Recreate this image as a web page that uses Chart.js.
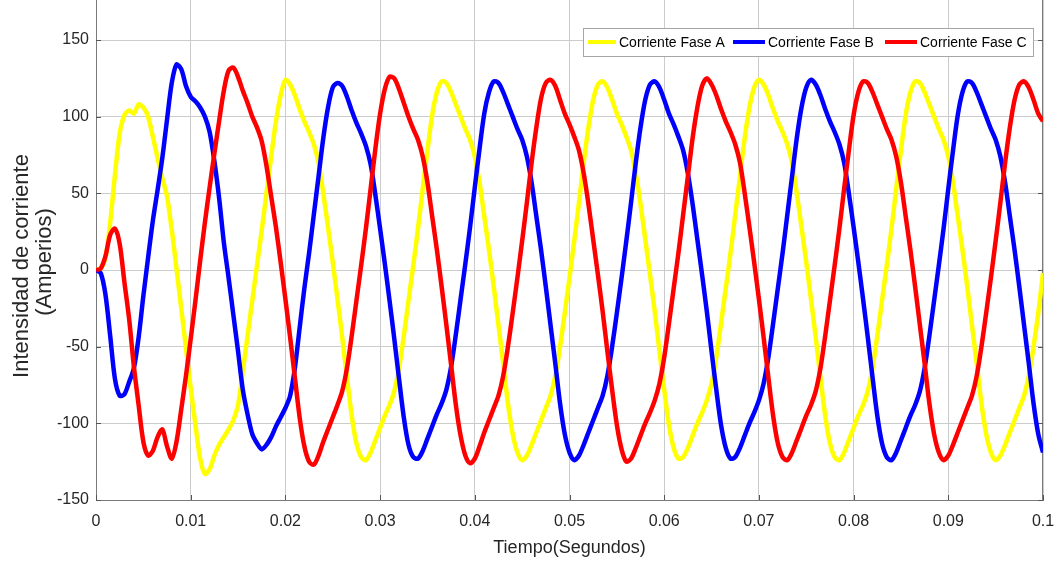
<!DOCTYPE html>
<html lang="es">
<head>
<meta charset="utf-8">
<title>Corrientes de fase</title>
<script src="https://cdn.jsdelivr.net/npm/chart.js@4.4.1/dist/chart.umd.min.js"></script>
<style>
  html, body { margin: 0; padding: 0; background: #ffffff; }
  #marco { position: relative; width: 1060px; height: 563px; }
</style>
</head>
<body>
<div id="marco"><canvas id="grafico" width="1060" height="563"></canvas></div>
<script>
// Muestreo: 0 a 0.1 s cada 0.5 ms
const PASO = 0.0005;
const TIEMPO = Array.from({ length: 201 }, (_, i) => +(i * PASO).toFixed(4));

// Corriente de cada fase (A)
const FASE_A = [
  0, 1, 8, 31, 62, 89, 101, 104, 102, 108,
  106, 100, 87, 73, 60, 48, 26, 1, -25, -51,
  -77, -101, -123, -133, -130, -121, -114, -109, -104, -98,
  -88, -66, -43, -20, 3, 26, 50, 74, 97, 114,
  124, 121, 114, 105, 97, 90, 82, 70, 50, 28,
  5, -19, -44, -70, -95, -113, -122, -124, -119, -111,
  -103, -95, -88, -79, -64, -43, -20, 3, 27, 53,
  78, 101, 116, 123,
  122, 116, 108, 100, 92, 85, 74, 57, 35, 13,
  -11, -36, -61, -87, -107, -119, -124, -121, -114, -106,
  -98, -90, -82, -69, -50, -28, -5, 19, 44, 70,
  93, 111, 121,
  123, 119, 111, 102, 95, 87, 78, 63, 43, 20,
  -3, -27, -53, -78, -101, -116, -123, -122, -116, -108,
  -100, -93, -85, -74, -57, -35, -12, 11, 36, 61,
  86, 106, 119,
  124, 121, 114, 105, 97, 90, 82, 70, 50, 28,
  5, -19, -44, -70, -95, -113, -122, -124, -119, -111,
  -103, -95, -88, -79, -64, -43, -20, 3, 27, 53,
  78, 101, 116, 123,
  122, 116, 108, 100, 92, 85, 74, 57, 35, 13,
  -11, -36, -61, -87, -107, -119, -124, -121, -114, -106,
  -98, -90, -82, -69, -50, -28, -2
];

const FASE_B = [
  0, -2, -16, -43, -71, -82, -81, -73, -64, -44,
  -17, 8, 32, 52, 73, 98, 122, 134, 131, 120,
  113, 110, 106, 100, 90, 71, 47, 18, -5, -29,
  -53, -78, -94, -107, -113, -117, -114, -109, -102, -96,
  -90, -82, -64, -38,
  -12, 11, 36, 61, 86, 106, 119,
  122, 120, 113, 104, 96, 89, 81, 69, 49, 27,
  4, -20, -45, -71, -96, -114, -122, -123, -118, -110,
  -102, -94, -87, -78, -63, -42, -19, 4, 28, 54,
  79, 102, 116, 123,
  122, 116, 108, 100, 92, 85, 74, 57, 35, 13,
  -11, -36, -61, -87, -107, -119, -124, -121, -114, -106,
  -98, -90, -82, -69, -50, -28, -5, 19, 44, 70,
  93, 111, 121,
  123, 119, 111, 102, 95, 87, 78, 63, 43, 20,
  -3, -27, -53, -78, -101, -116, -123, -122, -116, -108,
  -100, -93, -85, -74, -57, -35, -12, 11, 36, 61,
  86, 106, 119,
  124, 121, 114, 105, 97, 90, 82, 70, 50, 28,
  5, -19, -44, -70, -95, -113, -122, -124, -119, -111,
  -103, -95, -88, -79, -64, -43, -20, 3, 27, 53,
  78, 101, 116, 123,
  122, 116, 108, 100, 92, 85, 74, 57, 35, 13,
  -11, -36, -61, -87, -107, -119
];

const FASE_C = [
  0, 1, 9, 23, 27, 17, -8, -32, -63, -88,
  -112, -121, -118, -109, -104, -115, -123, -112, -91, -69,
  -45, -20, 6, 31, 54, 76, 97, 117, 130, 132,
  126, 117, 109, 100, 93, 84, 68, 48,
  28, 5, -19, -44, -70, -96, -115, -125, -127, -121,
  -112, -104, -96, -88, -79, -64, -43, -20, 3, 27,
  53, 79, 102, 118, 126,
  125, 118, 109, 100, 92, 85, 74, 57, 35, 13,
  -11, -36, -62, -88, -108, -121, -126, -123, -115, -106,
  -98, -90, -82, -69, -50, -28, -5, 19, 44, 70,
  93, 112, 122,
  124, 120, 111, 102, 95, 87, 78, 63, 43, 20,
  -3, -27, -53, -78, -101, -117, -125, -123, -116, -108,
  -100, -93, -85, -74, -57, -35, -12, 11, 36, 61,
  86, 106, 120,
  125, 121, 114, 105, 97, 90, 82, 70, 50, 28,
  5, -19, -44, -70, -95, -113, -122, -124, -119, -111,
  -103, -95, -88, -79, -64, -43, -20, 3, 27, 53,
  78, 101, 116, 123,
  122, 116, 108, 100, 92, 85, 74, 57, 35, 13,
  -11, -36, -61, -87, -107, -119, -124, -121, -114, -106,
  -98, -90, -82, -69, -50, -28, -5, 19, 44, 70,
  93, 111, 121,
  123, 119, 111, 102, 97
];

// Marcas de los ejes
const TICKS_X = [0, 0.01, 0.02, 0.03, 0.04, 0.05, 0.06, 0.07, 0.08, 0.09, 0.1];
const ETIQUETAS_X = ['0', '0.01', '0.02', '0.03', '0.04', '0.05', '0.06', '0.07', '0.08', '0.09', '0.1'];
const TICKS_Y = [-150, -100, -50, 0, 50, 100, 150];
const ETIQUETAS_Y = ['-150', '-100', '-50', '0', '50', '100', '150'];

const SERIES = [
  { nombre: 'Corriente Fase A', valores: FASE_A, color: '#ffff00', orden: 2 },
  { nombre: 'Corriente Fase B', valores: FASE_B, color: '#0000ff', orden: 1 },
  { nombre: 'Corriente Fase C', valores: FASE_C, color: '#ff0000', orden: 0 }
];

const FUENTE = '"Liberation Sans", Arial, Helvetica, sans-serif';
const COLOR_TEXTO = '#262626';

// Borde derecho y marcas interiores del recuadro
const marcoEjes = {
  id: 'marcoEjes',
  beforeDatasetsDraw(chart) {
    const { ctx, chartArea: a, scales: { x, y } } = chart;
    ctx.save();
    ctx.lineWidth = 1;
    ctx.strokeStyle = '#7a7a7a';
    const xr = Math.round(a.right) - 0.5;
    ctx.beginPath();
    ctx.moveTo(xr, a.top);
    ctx.lineTo(xr, a.bottom);
    ctx.stroke();
    ctx.strokeStyle = '#555555';
    ctx.beginPath();
    TICKS_Y.forEach(v => {
      const py = Math.round(y.getPixelForValue(v)) + 0.5;
      ctx.moveTo(a.left, py); ctx.lineTo(a.left + 5, py);
      ctx.moveTo(a.right, py); ctx.lineTo(a.right - 5, py);
    });
    TICKS_X.forEach(v => {
      const px = Math.round(x.getPixelForValue(v)) + 0.5;
      ctx.moveTo(px, a.bottom); ctx.lineTo(px, a.bottom - 5);
    });
    ctx.stroke();
    ctx.restore();
  }
};

// Títulos de los ejes y leyenda
const textosYLeyenda = {
  id: 'textosYLeyenda',
  afterDraw(chart) {
    const { ctx, chartArea: a } = chart;
    ctx.save();
    ctx.fillStyle = COLOR_TEXTO;
    ctx.textAlign = 'center';
    ctx.textBaseline = 'middle';
    ctx.font = '18px ' + FUENTE;
    ctx.fillText('Tiempo(Segundos)', (a.left + a.right) / 2, 548);

    ctx.font = '22px ' + FUENTE;
    ctx.save();
    ctx.translate(22, 266);
    ctx.rotate(-Math.PI / 2);
    ctx.fillText('Intensidad de corriente', 0, 0);
    ctx.restore();
    ctx.save();
    ctx.translate(45, 262);
    ctx.rotate(-Math.PI / 2);
    ctx.fillText('(Amperios)', 0, 0);
    ctx.restore();

    // Leyenda
    const caja = { x: 583.5, y: 28.5, w: 450, h: 28 };
    ctx.fillStyle = '#ffffff';
    ctx.fillRect(caja.x, caja.y, caja.w, caja.h);
    ctx.strokeStyle = '#a6a6a6';
    ctx.lineWidth = 1;
    ctx.strokeRect(caja.x, caja.y, caja.w, caja.h);
    const yc = 42;
    const muestras = [
      { x0: 588, x1: 616, tx: 619 },
      { x0: 733, x1: 765, tx: 768 },
      { x0: 885, x1: 917, tx: 920 }
    ];
    ctx.font = '14px ' + FUENTE;
    ctx.textAlign = 'left';
    SERIES.forEach((s, i) => {
      const m = muestras[i];
      ctx.strokeStyle = s.color;
      ctx.lineWidth = 4;
      ctx.beginPath();
      ctx.moveTo(m.x0, yc);
      ctx.lineTo(m.x1, yc);
      ctx.stroke();
      ctx.fillStyle = '#000000';
      ctx.fillText(s.nombre, m.tx, yc + 1);
    });
    ctx.restore();
  }
};

new Chart(document.getElementById('grafico'), {
  type: 'line',
  data: {
    datasets: SERIES.map(s => ({
      label: s.nombre,
      data: TIEMPO.map((t, i) => ({ x: t, y: s.valores[i] })),
      borderColor: s.color,
      backgroundColor: s.color,
      borderWidth: 4.5,
      pointRadius: 0,
      tension: 0.3,
      fill: false,
      order: s.orden
    }))
  },
  options: {
    responsive: false,
    animation: false,
    devicePixelRatio: 1,
    layout: { padding: { left: 0, right: 17, top: 0, bottom: 0 } },
    plugins: {
      legend: { display: false },
      tooltip: { enabled: false }
    },
    scales: {
      x: {
        type: 'linear',
        min: 0,
        max: 0.1,
        afterBuildTicks: s => { s.ticks = TICKS_X.map(v => ({ value: v })); },
        afterFit: s => { s.height = 63; s.paddingLeft = 0; s.paddingRight = 0; },
        ticks: {
          autoSkip: false,
          maxRotation: 0,
          padding: 12,
          color: COLOR_TEXTO,
          font: { family: FUENTE, size: 16 },
          callback: (v, i) => ETIQUETAS_X[i]
        },
        grid: { color: '#cccccc', lineWidth: 1, drawTicks: false },
        border: { display: true, color: '#7a7a7a', width: 1 }
      },
      y: {
        min: -150,
        max: 176.1,
        afterBuildTicks: s => { s.ticks = TICKS_Y.map(v => ({ value: v })); },
        afterFit: s => { s.width = 96; s.paddingTop = 0; s.paddingBottom = 0; },
        ticks: {
          autoSkip: false,
          padding: 7,
          color: COLOR_TEXTO,
          font: { family: FUENTE, size: 16 },
          callback: (v, i) => ETIQUETAS_Y[i]
        },
        grid: { color: '#cccccc', lineWidth: 1, drawTicks: false },
        border: { display: true, color: '#7a7a7a', width: 1 }
      }
    }
  },
  plugins: [marcoEjes, textosYLeyenda]
});
</script>
</body>
</html>
